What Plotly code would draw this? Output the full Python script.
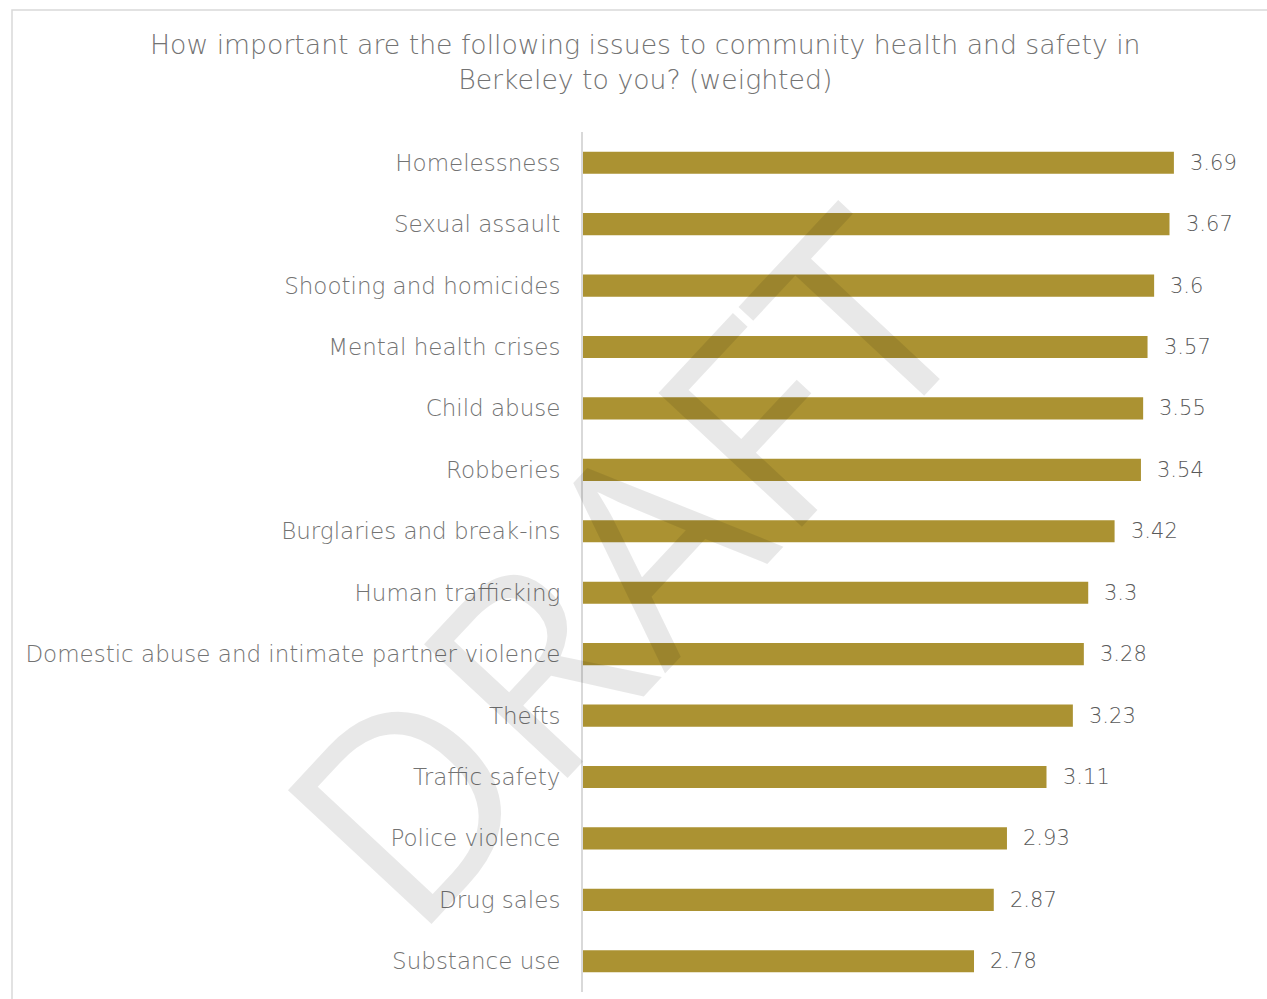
import plotly.graph_objects as go

categories = ["Homelessness", "Sexual assault", "Shooting and homicides", "Mental health crises",
              "Child abuse", "Robberies", "Burglaries and break-ins", "Human trafficking",
              "Domestic abuse and intimate partner violence", "Thefts", "Traffic safety",
              "Police violence", "Drug sales", "Substance use"]
values = [3.69, 3.67, 3.6, 3.57, 3.55, 3.54, 3.42, 3.3, 3.28, 3.23, 3.11, 2.93, 2.87, 2.78]
value_labels = ["3.69", "3.67", "3.6", "3.57", "3.55", "3.54", "3.42", "3.3", "3.28", "3.23",
                "3.11", "2.93", "2.87", "2.78"]

FONT = "DejaVu Sans"
LABEL_GREY = "#737373"
VALUE_GREY = "#595959"

fig = go.Figure(go.Bar(
    y=categories, x=values, orientation="h", base=0,
    marker=dict(color="#AB9232", line=dict(width=0)),
    hoverinfo="skip",
))

W, H = 1267, 999
L, R, T, B = 583, 25, 132, 7
pw, ph = W - L - R, H - T - B

annotations = [
    dict(x=v, y=c, xref="x", yref="y", text=t, showarrow=False,
         xanchor="left", yanchor="middle", xshift=14,
         font=dict(family=FONT, size=21, color=VALUE_GREY, weight=300))
    for c, v, t in zip(categories, values, value_labels)
]
annotations += [
    dict(text="How important are the following issues to community health and safety in<br>Berkeley to you? (weighted)",
         xref="paper", yref="paper", x=(645 - L) / pw, y=(H - B - 62) / ph,
         xanchor="center", yanchor="middle", showarrow=False,
         font=dict(family=FONT, size=26.7, color=LABEL_GREY, weight=300), align="center"),
    dict(text="DRAFT", xref="paper", yref="paper",
         x=(620 - L) / pw, y=(H - B - 565) / ph, xanchor="center", yanchor="middle",
         showarrow=False, textangle=-47,
         font=dict(family="Open Sans", size=275, color="rgba(0,0,0,0.09)")),
]

fig.update_layout(
    width=W, height=H, margin=dict(l=L, r=R, t=T, b=B),
    paper_bgcolor="white", plot_bgcolor="white",
    bargap=0.64, showlegend=False,
    font=dict(family=FONT, color=LABEL_GREY),
    xaxis=dict(range=[1, 4], showgrid=False, zeroline=False, showticklabels=False,
               showline=False, fixedrange=True),
    yaxis=dict(autorange="reversed", showgrid=False, zeroline=False,
               showline=True, linecolor="#D9D9D9", linewidth=2,
               ticks="", ticklabelstandoff=16,
               tickfont=dict(family=FONT, size=23, color=LABEL_GREY, weight=300)),
    annotations=annotations,
    shapes=[dict(type="rect", xref="paper", yref="paper",
                 x0=(12 - L) / pw, x1=(1290 - L) / pw,
                 y0=(H - B - 1010) / ph, y1=(H - B - 10) / ph,
                 line=dict(color="#D9D9D9", width=1.5), fillcolor="rgba(0,0,0,0)", layer="below")],
)

fig.write_html("out.html")
